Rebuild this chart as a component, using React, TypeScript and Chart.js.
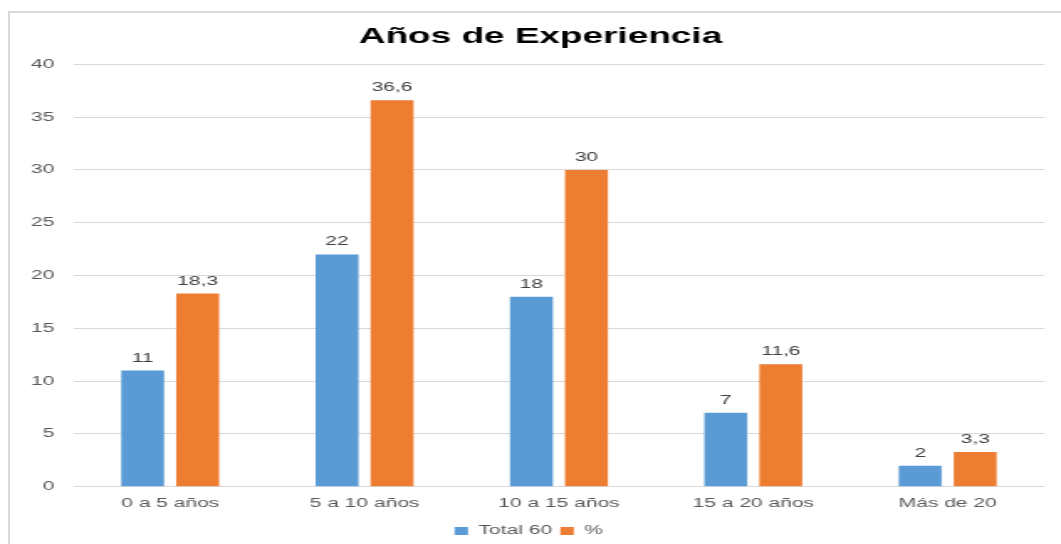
import React, { useEffect, useRef } from "react";
import { Chart, registerables } from "chart.js";

Chart.register(...registerables);

const chartTitle = "Años de Experiencia";
const categories = ["0 a 5 años", "5 a 10 años", "10 a 15 años", "15 a 20 años", "Más de 20"];
const seriesNames = ["Total 60", "%"];
const totalValues = [11, 22, 18, 7, 2];
const percentValues = [18.3, 36.6, 30, 11.6, 3.3];
const yMin = 0;
const yMax = 40;
const yStep = 5;

const BLUE = "#5B9BD5";
const ORANGE = "#ED7D31";
const TEXT = "#595959";
const GRID = "#D9D9D9";
const FONT = "'Liberation Sans', Arial, sans-serif";

// The reference picture is horizontally stretched; draw into a narrower
// canvas and let CSS stretch it to the page width.
const INTERNAL_W = 626;
const INTERNAL_H = 531;
const CSS_W = 1051;
const CSS_H = 531;

const dataLabels = {
  id: "dataLabels",
  afterDatasetsDraw(chart: any) {
    const ctx = chart.ctx;
    ctx.save();
    ctx.font = `12.5px ${FONT}`;
    ctx.fillStyle = "#404040";
    ctx.textAlign = "center";
    ctx.textBaseline = "alphabetic";
    chart.data.datasets.forEach((ds: any, i: number) => {
      const meta = chart.getDatasetMeta(i);
      meta.data.forEach((bar: any, j: number) => {
        const v = ds.data[j];
        ctx.fillText(String(v).replace(".", ","), bar.x, bar.y - 9);
      });
    });
    ctx.restore();
  },
};

const centeredTitle = {
  id: "centeredTitle",
  afterDraw(chart: any) {
    const ctx = chart.ctx;
    ctx.save();
    ctx.font = `bold 22px ${FONT}`;
    ctx.fillStyle = "#000000";
    ctx.textAlign = "center";
    ctx.textBaseline = "middle";
    ctx.fillText(chartTitle, chart.width / 2 + 3, 24.2);
    ctx.restore();
  },
};

export default function App() {
  const ref = useRef<HTMLCanvasElement | null>(null);

  useEffect(() => {
    if (!ref.current) return;
    const chart = new Chart(ref.current, {
      type: "bar",
      data: {
        labels: categories,
        datasets: [
          {
            label: seriesNames[0],
            data: totalValues,
            backgroundColor: BLUE,
            categoryPercentage: 0.566,
            barPercentage: 0.78,
          },
          {
            label: seriesNames[1],
            data: percentValues,
            backgroundColor: ORANGE,
            categoryPercentage: 0.566,
            barPercentage: 0.78,
          },
        ],
      },
      options: {
        animation: false,
        responsive: false,
        devicePixelRatio: 1,
        layout: { padding: { left: 1.6, right: 9.6, top: 51.4, bottom: 0 } },
        plugins: {
          title: { display: false },
          legend: {
            position: "bottom",
            maxHeight: 24.25,
            labels: {
              boxWidth: 8,
              boxHeight: 8,
              padding: 5,
              color: TEXT,
              font: { family: FONT, size: 12.5 },
            },
          },
          tooltip: { enabled: false },
        },
        scales: {
          x: {
            grid: { display: false, drawTicks: false },
            border: { display: false },
            ticks: { color: TEXT, font: { family: FONT, size: 12.5 }, padding: 9 },
          },
          y: {
            min: yMin,
            max: yMax,
            ticks: { stepSize: yStep, color: TEXT, font: { family: FONT, size: 12.5 }, padding: 11 },
            grid: { color: GRID, drawTicks: false },
            border: { display: false },
          },
        },
      },
      plugins: [dataLabels, centeredTitle],
    });
    return () => chart.destroy();
  }, []);

  return (
    <div
      style={{
        position: "absolute",
        left: 8,
        top: 11,
        width: 1053,
        height: 533,
        borderLeft: "2px solid #D9D9D9",
        borderTop: "2px solid #D9D9D9",
        boxSizing: "border-box",
        background: "#FFFFFF",
      }}
    >
      <canvas
        ref={ref}
        width={INTERNAL_W}
        height={INTERNAL_H}
        style={{ width: CSS_W, height: CSS_H, display: "block" }}
      />
    </div>
  );
}
